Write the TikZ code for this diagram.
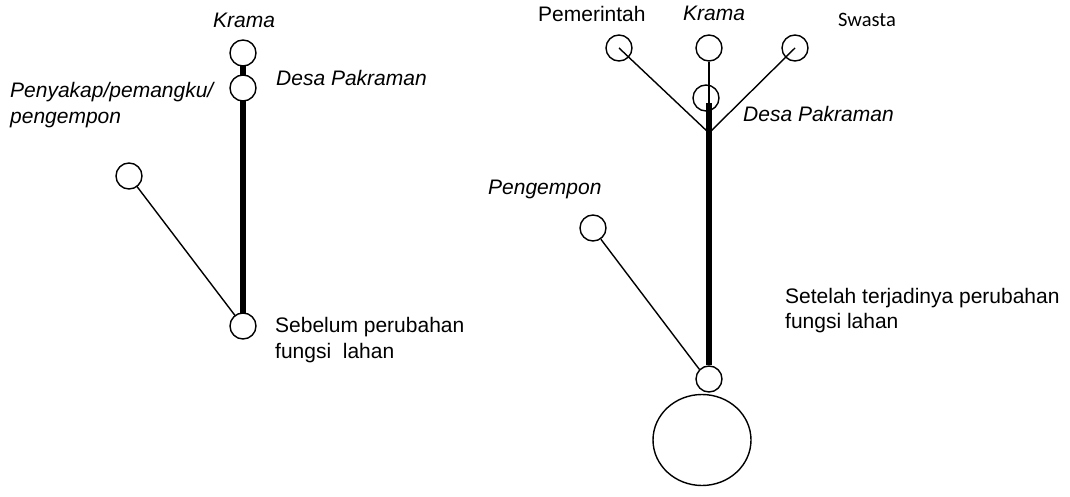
\documentclass[tikz,border=0pt]{standalone}
\usepackage{fontspec}
\setmainfont{Liberation Sans}
\newfontfamily\calibrilike{Carlito}
\begin{document}
\begin{tikzpicture}[x=1pt,y=-1pt,
  actor/.style={circle,draw,line width=1.4pt,minimum size=26pt,inner sep=0pt},
  actorw/.style={actor,fill=white},
  tie/.style={line width=1.4pt},
  strongtie/.style={line width=5.5pt},
  lbl/.style={anchor=base west,inner sep=0pt,font=\fontsize{21}{25}\selectfont},
  ilbl/.style={lbl,font=\fontsize{21}{25}\selectfont\itshape}
]
\useasboundingbox (0,0) rectangle (1070,497);

% ---- before the change of land use ----
\coordinate (kramaL) at (243,53);
\coordinate (desaL) at (243,88);
\coordinate (pengL) at (129,176);
\coordinate (baseL) at (243,326);

\draw[strongtie] (kramaL) -- (baseL);
\draw[tie] (pengL) -- (baseL);
\node[actorw] (nKramaL) at (kramaL) {};
\node[actorw] (nDesaL) at (desaL) {};
\node[actorw] (nPengL) at (pengL) {};
\node[actorw] (nBaseL) at (baseL) {};

\node[ilbl] (tKramaL) at (213,28) {Krama};
\node[ilbl] (tDesaL) at (276,86) {Desa Pakraman};
\node[ilbl] (tPengL1) at (10,98) {Penyakap/pemangku/};
\node[ilbl] (tPengL2) at (10,124) {pengempon};
\node[lbl] (tBefore1) at (275,332) {Sebelum perubahan};
\node[lbl] (tBefore2) at (275,358) {fungsi\ \ lahan};

% ---- after the change of land use ----
\node[actor] (nPem) at (619,48) {};
\node[actor] (nKramaR) at (709,48) {};
\node[actor] (nSwa) at (795,48) {};
\node[actor] (nDesaR) at (706,98) {};
\node[actor] (nPengR) at (593,228) {};
\node[actor] (nBaseR) at (709,379) {};
\draw[line width=1.4pt] (702,440) ellipse [x radius=49, y radius=45.5];
\coordinate (junc) at (709,133);
\coordinate (thickTop) at (709,103);

\draw[tie] (nPem.center) -- (junc);
\draw[tie] (nSwa.center) -- (junc);
\draw[tie] (nKramaR.south) -- (junc);
\draw[strongtie] (thickTop) -- (nBaseR.north);
\draw[tie] (nPengR.-55) -- (nBaseR.north west);

\node[lbl] (tPem) at (538,22) {Pemerintah};
\node[ilbl] (tKramaR) at (683,21) {Krama};
\node[anchor=base west,inner sep=0pt,font=\calibrilike\fontsize{20.5}{24}\selectfont] (tSwa) at (838,27) {Swasta};
\node[ilbl] (tDesaR) at (743,122) {Desa Pakraman};
\node[ilbl] (tPengR) at (488,195) {Pengempon};
\node[lbl] (tAfter1) at (785,303) {Setelah terjadinya perubahan};
\node[lbl] (tAfter2) at (785,328) {fungsi lahan};
\end{tikzpicture}
\end{document}
